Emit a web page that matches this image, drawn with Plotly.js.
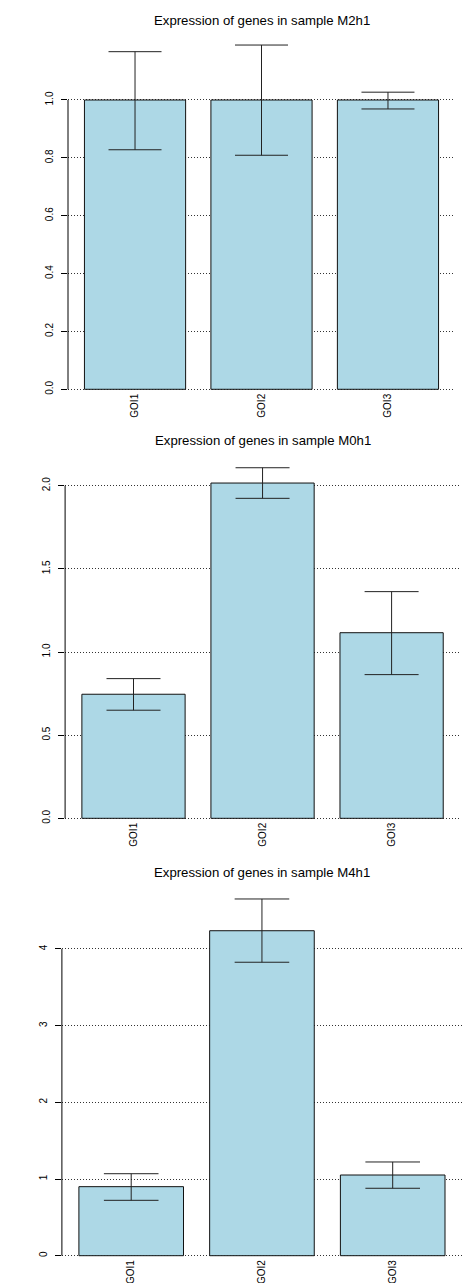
<!DOCTYPE html>
<html>
<head>
<meta charset="utf-8">
<script src="https://cdn.plot.ly/plotly-3.0.1.min.js"></script>
<style>html,body{margin:0;padding:0;background:#fff;}#chart{width:462px;height:1283px;}</style>
</head>
<body>
<div id="chart"></div>
<script>
// ---- data ----
const categories = ['GOI1', 'GOI2', 'GOI3'];

const titleM2h1 = 'Expression of genes in sample M2h1';
const valuesM2h1 = [1.0, 1.0, 1.0];
const upperM2h1 = [1.167, 1.190, 1.027];
const lowerM2h1 = [0.828, 0.809, 0.969];
const tickValsM2h1 = [0, 0.2, 0.4, 0.6, 0.8, 1.0];
const tickTextM2h1 = ['0.0', '0.2', '0.4', '0.6', '0.8', '1.0'];

const titleM0h1 = 'Expression of genes in sample M0h1';
const valuesM0h1 = [0.746, 2.016, 1.116];
const upperM0h1 = [0.840, 2.108, 1.363];
const lowerM0h1 = [0.650, 1.924, 0.864];
const tickValsM0h1 = [0, 0.5, 1.0, 1.5, 2.0];
const tickTextM0h1 = ['0.0', '0.5', '1.0', '1.5', '2.0'];

const titleM4h1 = 'Expression of genes in sample M4h1';
const valuesM4h1 = [0.900, 4.237, 1.052];
const upperM4h1 = [1.069, 4.651, 1.222];
const lowerM4h1 = [0.722, 3.826, 0.879];
const tickValsM4h1 = [0, 1, 2, 3, 4];
const tickTextM4h1 = ['0', '1', '2', '3', '4'];

// ---- layout helpers ----
const W = 462, H = 1283;
const FONT = '"Liberation Sans", Arial, sans-serif';
const px2x = p => p / W;
const px2y = p => 1 - p / H;

const panels = [
  {title: titleM2h1, vals: valuesM2h1, up: upperM2h1, lo: lowerM2h1, tv: tickValsM2h1, tt: tickTextM2h1,
   xl: 68, xr: 455, y0: 389.3, ymax: 1.25, pxPerUnit: 289.3, titleY: 20, cap: 26.5},
  {title: titleM0h1, vals: valuesM0h1, up: upperM0h1, lo: lowerM0h1, tv: tickValsM0h1, tt: tickTextM0h1,
   xl: 65.1, xr: 460, y0: 818.3, ymax: 2.2, pxPerUnit: 166.3, titleY: 440, cap: 27},
  {title: titleM4h1, vals: valuesM4h1, up: upperM4h1, lo: lowerM4h1, tv: tickValsM4h1, tt: tickTextM4h1,
   xl: 61.9, xr: 462, y0: 1255.7, ymax: 4.8, pxPerUnit: 76.7, titleY: 872.7, cap: 27.3}
];

const data = [];
const layout = {
  width: W, height: H,
  margin: {l: 0, r: 0, t: 0, b: 0},
  paper_bgcolor: '#ffffff', plot_bgcolor: '#ffffff',
  showlegend: false,
  font: {family: FONT, size: 10, color: '#000'},
  annotations: [], shapes: []
};

panels.forEach((p, i) => {
  const n = i === 0 ? '' : String(i + 1);
  const xa = 'x' + n, ya = 'y' + n;
  data.push({
    type: 'bar', x: categories, y: p.vals, xaxis: xa, yaxis: ya,
    marker: {color: '#ADD8E6', line: {color: '#111', width: 1}},
    error_y: {
      type: 'data', symmetric: false,
      array: p.up.map((u, k) => u - p.vals[k]),
      arrayminus: p.vals.map((v, k) => v - p.lo[k]),
      color: '#222', thickness: 1, width: p.cap
    },
    hoverinfo: 'x+y'
  });
  const eps = 1.5 / p.pxPerUnit;          // tiny pad so the 0 grid line is drawn
  const ytopPx = p.y0 - p.ymax * p.pxPerUnit;
  const ybotPx = p.y0 + eps * p.pxPerUnit;
  layout['xaxis' + n] = {
    domain: [px2x(p.xl), px2x(p.xr)],
    anchor: ya, type: 'category', range: [-0.53, 2.53],
    showgrid: false, showline: false, zeroline: false, ticks: '',
    tickangle: -90, tickfont: {family: FONT, size: 10, color: '#000'},
    fixedrange: true
  };
  layout['yaxis' + n] = {
    domain: [px2y(ybotPx), px2y(ytopPx)],
    anchor: xa, range: [-eps, p.ymax],
    tickvals: p.tv, ticktext: p.tt,
    tickangle: -90, tickfont: {family: FONT, size: 10, color: '#000'},
    ticks: 'outside', ticklen: 6, tickcolor: '#000', tickwidth: 1,
    ticklabelstandoff: 4,
    showline: false, zeroline: false,
    showgrid: true, gridcolor: '#333', griddash: '1px,2px', gridwidth: 1,
    fixedrange: true
  };
  layout.shapes.push({
    type: 'line', xref: xa + ' domain', yref: ya,
    x0: 0, x1: 0, y0: p.tv[0], y1: p.tv[p.tv.length - 1],
    line: {color: '#000', width: 1}
  });
  layout.annotations.push({
    text: p.title, showarrow: false,
    xref: xa + ' domain', x: 0.5, xanchor: 'center',
    yref: 'paper', y: px2y(p.titleY), yanchor: 'middle',
    font: {family: FONT, size: 13.2, color: '#000'}
  });
});

Plotly.newPlot('chart', data, layout, {displayModeBar: false, staticPlot: true});
</script>
</body>
</html>
